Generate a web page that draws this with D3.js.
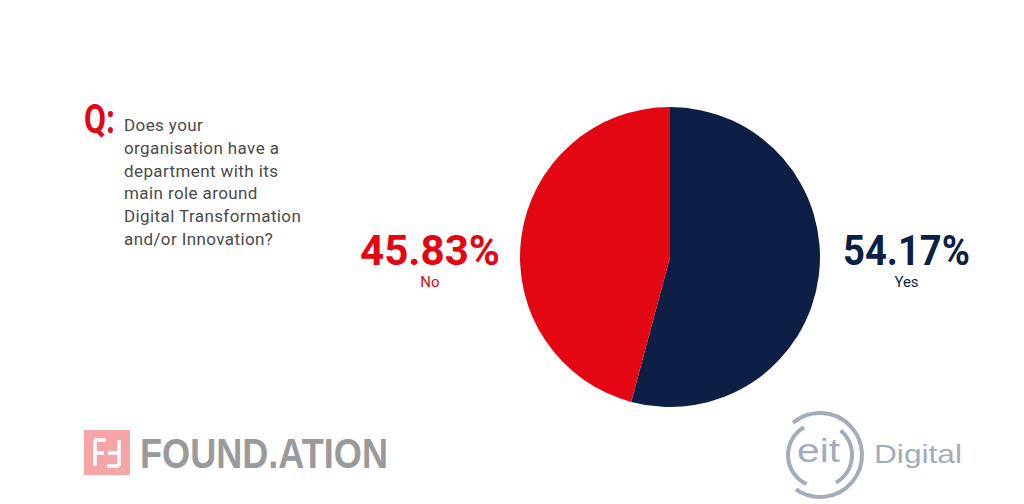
<!DOCTYPE html>
<html><head><meta charset="utf-8">
<script src="https://cdn.jsdelivr.net/npm/d3@7"></script>
<style>body{margin:0;background:#fff;}svg{display:block;}</style>
</head><body>
<svg id="c" width="1024" height="504"></svg>
<script>
const categories = ["Yes", "No"];
const values = [54.17, 45.83];
const valueLabels = ["54.17%", "45.83%"];
const colors = ["#0D1F45", "#E30613"];
const questionLines = ["Does your", "organisation have a", "department with its", "main role around", "Digital Transformation", "and/or Innovation?"];

const svg = d3.select("#c");
const cx = 670, cy = 257, r = 150;
const font = "'Roboto','DejaVu Sans',sans-serif";

const pie = d3.pie().sort(null).value(d => d)(values);
const arc = d3.arc().innerRadius(0).outerRadius(r);
const color = d3.scaleOrdinal().domain(categories).range(colors);

svg.append("g").attr("transform", `translate(${cx},${cy})`)
  .selectAll("path").data(pie).join("path")
  .attr("d", arc).attr("fill", (d, i) => color(categories[i]));

// Labels
const labelPos = [{x: 906.5, y: 265, w: 127}, {x: 430, y: 265, w: 140}];
categories.forEach((c, i) => {
  svg.append("text").attr("x", labelPos[i].x).attr("y", labelPos[i].y)
    .attr("text-anchor", "middle").attr("fill", color(c))
    .attr("font-family", font).attr("font-weight", "bold").attr("font-size", 42)
    .attr("textLength", labelPos[i].w).attr("lengthAdjust", "spacingAndGlyphs")
    .text(valueLabels[i]);
  svg.append("text").attr("x", labelPos[i].x).attr("y", labelPos[i].y + 22)
    .attr("text-anchor", "middle").attr("fill", color(c))
    .attr("font-family", font).attr("font-size", 15)
    .text(c);
});

// Question
svg.append("text").attr("x", 84).attr("y", 133).attr("fill", "#E30613")
  .attr("font-family", font).attr("font-weight", "bold").attr("font-size", 40)
  .attr("textLength", 31).attr("lengthAdjust", "spacingAndGlyphs").text("Q:");
const qt = svg.append("text").attr("fill", "#4a4a4a").attr("font-family", font)
  .attr("font-size", 17).attr("letter-spacing", 0.4);
questionLines.forEach((l, i) => {
  qt.append("tspan").attr("x", 124).attr("y", 131 + i * 22.8).text(l);
});

// FOUND.ATION logo
const lg = svg.append("g");
lg.append("rect").attr("x", 84).attr("y", 430).attr("width", 46).attr("height", 45).attr("fill", "#F5A5A8");
lg.append("path").attr("d", "M94,440 h12 M95,440 v26 M95,453 h9 M119,440 v26 M108,453 h10 M119,466 h-12")
  .attr("stroke", "#fff").attr("stroke-width", 3.5).attr("fill", "none");
lg.append("text").attr("x", 140).attr("y", 468).attr("fill", "#9a9a9a")
  .attr("font-family", "'Liberation Sans','Arial',sans-serif").attr("font-weight", "bold").attr("font-size", 42)
  .attr("textLength", 248).attr("lengthAdjust", "spacingAndGlyphs").text("FOUND.ATION");

// eit Digital logo
const ecx = 820, ecy = 455;
const deg = Math.PI / 180;
const eg = svg.append("g").attr("transform", `translate(${ecx},${ecy})`)
  .attr("stroke", "#A3ACBD").attr("fill", "none").attr("stroke-width", 4).attr("stroke-linecap", "butt");
const ring = (rr, a0, a1) => { const p = d3.path(); p.arc(0, 0, rr, (a0 - 90) * deg, (a1 - 90) * deg); return p.toString(); };
eg.append("path").attr("d", ring(42, -40, 215));
eg.append("path").attr("d", ring(32, 205, 330));
eg.append("path").attr("d", ring(32, 40, 150));
svg.append("text").attr("x", 797).attr("y", 462).attr("fill", "#A3ACBD")
  .attr("font-family", "'Liberation Sans',sans-serif").attr("font-size", 34)
  .attr("textLength", 43).attr("lengthAdjust", "spacingAndGlyphs").text("eit");
svg.append("text").attr("x", 874).attr("y", 463).attr("fill", "#A3ACBD")
  .attr("font-family", "'Liberation Sans',sans-serif").attr("font-size", 26)
  .attr("textLength", 88).attr("lengthAdjust", "spacingAndGlyphs").text("Digital");
</script>
</body></html>
